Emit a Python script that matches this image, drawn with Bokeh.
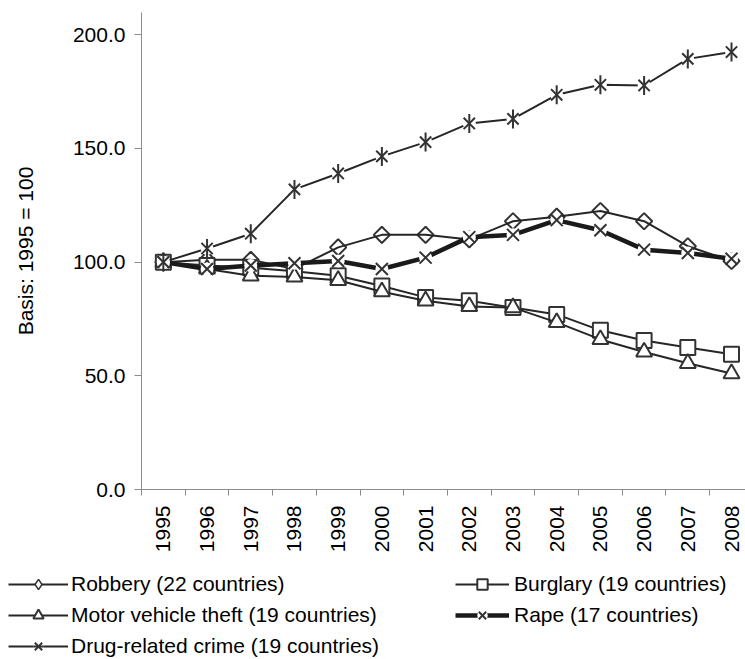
import math
from bokeh.plotting import figure
from bokeh.layouts import column
from bokeh.models import Range1d, FixedTicker, NumeralTickFormatter, Legend, LegendItem
from bokeh.embed import file_html
from bokeh.resources import INLINE

# ---- data ----
years = [1995, 1996, 1997, 1998, 1999, 2000, 2001, 2002, 2003, 2004, 2005, 2006, 2007, 2008]
robbery = [100.0, 101.0, 101.0, 97.0, 106.5, 112.0, 112.0, 110.0, 118.0, 120.0, 122.5, 118.0, 107.0, 100.5]
burglary = [100.0, 98.5, 97.5, 96.0, 94.0, 89.5, 84.5, 83.0, 80.0, 77.0, 70.0, 65.5, 62.5, 59.5]
motor_vehicle_theft = [100.0, 97.0, 94.0, 93.5, 92.0, 87.0, 83.0, 80.5, 80.0, 73.5, 66.0, 60.5, 55.5, 51.0]
rape = [100.0, 97.0, 98.5, 99.5, 100.5, 97.0, 102.0, 111.0, 112.0, 118.5, 114.0, 105.5, 104.0, 101.5]
drug_related = [100.0, 106.0, 112.5, 132.0, 139.0, 146.5, 152.8, 161.0, 163.0, 173.6, 178.0, 177.7, 189.4, 192.4]

labels = {
    "robbery": "Robbery (22 countries)",
    "burglary": "Burglary (19 countries)",
    "motor": "Motor vehicle theft (19 countries)",
    "rape": "Rape (17 countries)",
    "drug": "Drug-related crime (19 countries)",
}
y_label = "Basis: 1995 = 100"
y_ticks = [0, 50, 100, 150, 200]

FONT = "Liberation Sans"
FS = "21px"
LINE = "#262626"
MK = "#333333"
AXC = "#8c8c8c"

x = [i + 0.5 for i in range(len(years))]

p = figure(width=745, height=571, output_backend="svg", toolbar_location=None,
           x_range=Range1d(0, 13.82), y_range=Range1d(0, 209.8),
           min_border_left=141, min_border_right=0, min_border_top=12, min_border_bottom=82)
p.outline_line_color = None
p.xgrid.visible = False
p.ygrid.visible = False

# x axis
xa = p.xaxis[0]
xa.ticker = FixedTicker(ticks=x, minor_ticks=list(range(len(years) + 1)))
xa.major_label_overrides = {xi: str(yr) for xi, yr in zip(x, years)}
xa.major_label_orientation = math.pi / 2
xa.major_tick_line_color = None
xa.major_tick_out = 6
xa.major_tick_in = 0
xa.minor_tick_out = 6
xa.minor_tick_in = 0
xa.minor_tick_line_color = AXC
xa.axis_line_color = AXC
xa.major_label_standoff = 10
xa.major_label_text_font = FONT
xa.major_label_text_font_size = FS
xa.major_label_text_color = "black"

# y axis
ya = p.yaxis[0]
ya.ticker = FixedTicker(ticks=y_ticks, minor_ticks=[])
ya.formatter = NumeralTickFormatter(format="0.0")
ya.major_tick_out = 7
ya.major_tick_in = 0
ya.minor_tick_line_color = None
ya.major_tick_line_color = AXC
ya.axis_line_color = AXC
ya.major_label_standoff = 9
ya.major_label_text_font = FONT
ya.major_label_text_font_size = FS
ya.major_label_text_color = "black"
ya.axis_label = y_label
ya.axis_label_text_font = FONT
ya.axis_label_text_font_size = FS
ya.axis_label_text_font_style = "normal"
ya.axis_label_text_color = "black"
ya.axis_label_standoff = 33


def draw(fig, ys, kind, key=False):
    """Draw one series on fig; returns its renderers."""
    if kind == "robbery":
        if key:
            mk = fig.scatter(x, ys, marker="diamond", size=16, fill_color="white",
                             line_color=MK, line_width=1.5)
        else:
            mk = fig.scatter(x, ys, marker="square", angle=math.pi / 4, size=11.5,
                             fill_color="white", line_color=MK, line_width=2)
        return [fig.line(x, ys, line_color=LINE, line_width=2), mk]
    if kind == "burglary":
        return [fig.line(x, ys, line_color=LINE, line_width=2),
                fig.scatter(x, ys, marker="square", size=15,
                            fill_color="white", line_color=MK, line_width=2)]
    if kind == "motor":
        return [fig.line(x, ys, line_color=LINE, line_width=2),
                fig.scatter(x, ys, marker="triangle", size=16,
                            fill_color="white", line_color=MK, line_width=2)]
    if kind == "rape":
        return [fig.line(x, ys, line_color="#1a1a1a", line_width=4.5),
                fig.scatter(x, ys, marker="circle", size=13, fill_color="white", line_color=None),
                fig.scatter(x, ys, marker="x", size=17, line_color=MK, line_width=2)]
    return [fig.line(x, ys, line_color=LINE, line_width=2),
            fig.scatter(x, ys, marker="circle", size=13, fill_color="white", line_color=None),
            fig.scatter(x, ys, marker="x", size=16, line_color=MK, line_width=2),
            fig.scatter(x, ys, marker="dash", angle=math.pi / 2, size=19, line_color=MK, line_width=2)]


series = [("robbery", robbery), ("burglary", burglary), ("motor", motor_vehicle_theft),
          ("rape", rape), ("drug", drug_related)]
for kind, ys in series:
    draw(p, ys, kind)

# ---- legend strip below the chart (same glyph styles, data kept out of its view) ----
lg = figure(width=745, height=88, output_backend="svg", toolbar_location=None,
            x_range=Range1d(0, 1), y_range=Range1d(-2, -1),
            x_axis_location=None, y_axis_location=None,
            min_border_left=0, min_border_right=0, min_border_top=0, min_border_bottom=0)
lg.outline_line_color = None
lg.grid.visible = False
for fig in (p, lg):
    try:
        fig.frame_align = False
    except Exception:
        pass
rend = {kind: draw(lg, ys, kind, key=True) for kind, ys in series}

common = dict(padding=0, margin=0, border_line_color=None, background_fill_alpha=0,
              label_text_font=FONT, label_text_font_size=FS, label_text_color="black",
              glyph_height=26, label_height=26, spacing=5, orientation="vertical")

leg1 = Legend(items=[LegendItem(label=labels[k], renderers=rend[k]) for k in ("robbery", "motor", "drug")],
              location=(8, 0), glyph_width=60, label_standoff=3, **common)
leg2 = Legend(items=[LegendItem(label=labels[k], renderers=rend[k]) for k in ("burglary", "rape")],
              location=(455, 31), glyph_width=54, label_standoff=5, **common)
lg.add_layout(leg1)
lg.add_layout(leg2)

layout = column(p, lg, spacing=0)
open("out.html", "w").write(file_html(layout, INLINE))
